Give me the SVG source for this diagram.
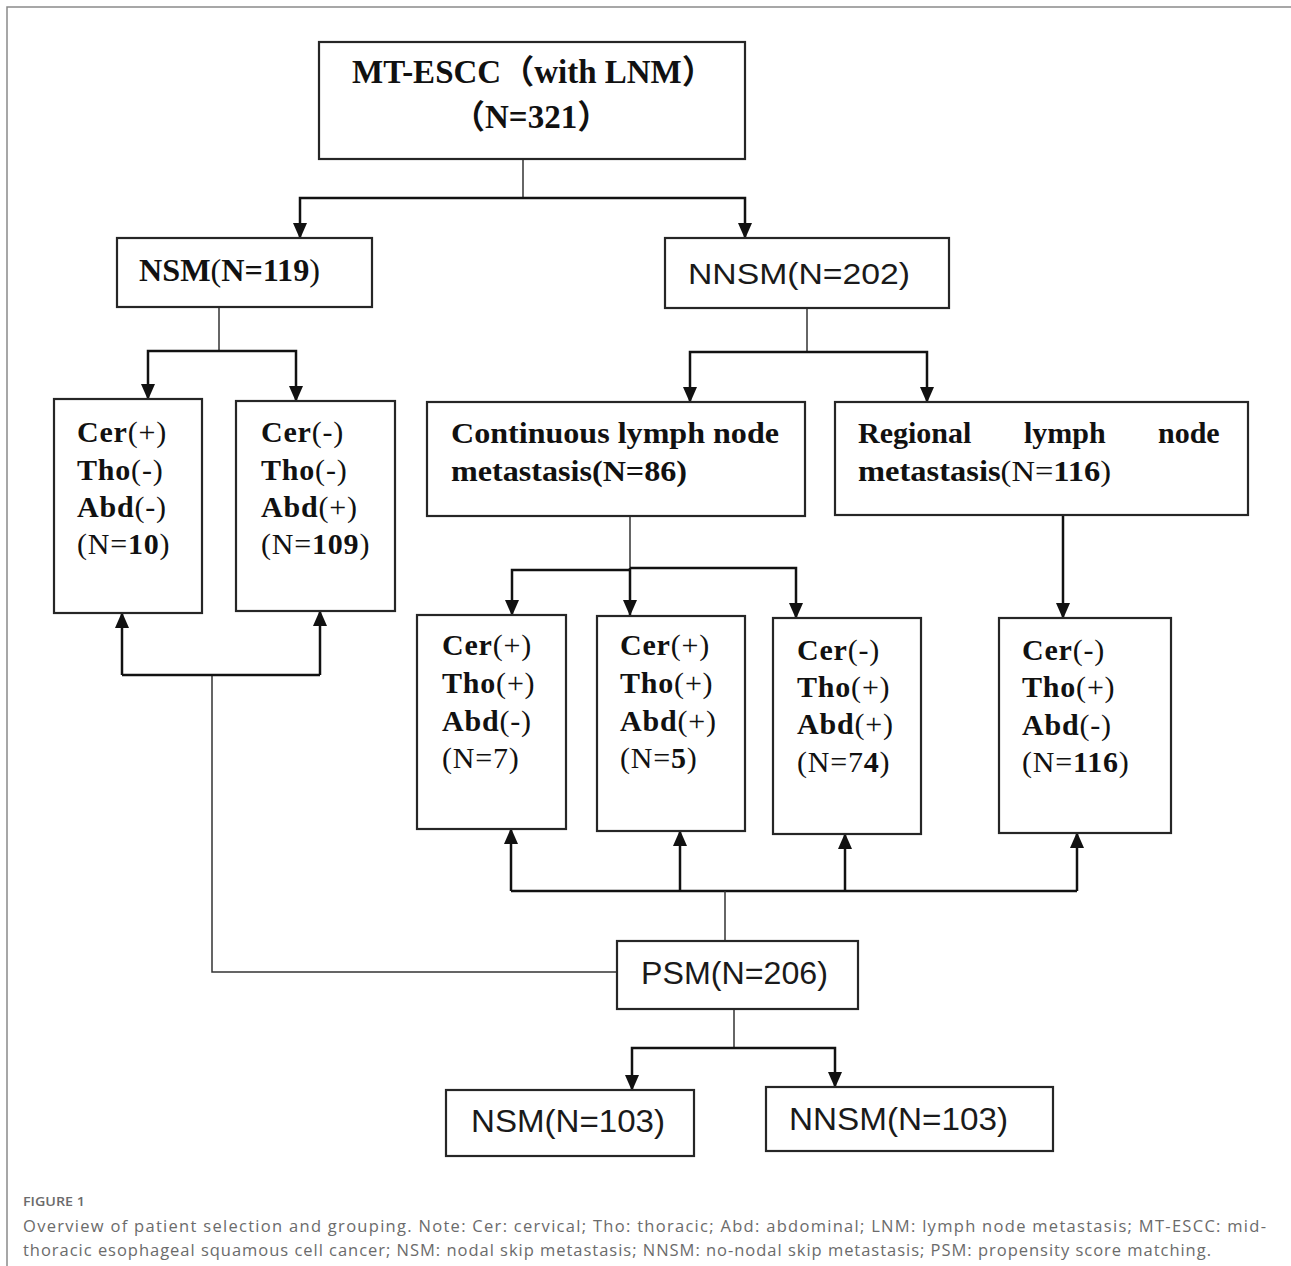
<svg xmlns="http://www.w3.org/2000/svg" width="1291" height="1266" viewBox="0 0 1291 1266">
<defs>
<marker id="ah" markerWidth="16" markerHeight="14" refX="15" refY="7" orient="auto" markerUnits="userSpaceOnUse">
<path d="M0,0 L16,7 L0,14 z" fill="#111"/>
</marker>
<style>
.box{fill:#fff;stroke:#262626;stroke-width:2.2}
.bar{fill:none;stroke:#111;stroke-width:2.5}
.stem{fill:none;stroke:#333;stroke-width:1.5}
.arr{fill:none;stroke:#111;stroke-width:2.5;marker-end:url(#ah)}
.ser{font-family:"Liberation Serif","Times New Roman","Noto Sans CJK SC",serif;fill:#111}
.b{font-weight:bold}
.n{font-weight:normal}
.cer{font-size:30px;letter-spacing:0.8px}
.san{font-family:"Liberation Sans",Arial,sans-serif;fill:#1a1a1a}
.cap{font-family:"Open Sans","Noto Sans",sans-serif;fill:#6b6b6b}
</style>
</defs>
<rect width="1291" height="1266" fill="#fff"/>
<g id="frame" fill="none" stroke="#8a8a8a" stroke-width="1.5">
<path d="M7,1266 V7 H1291"/>
</g>

<g id="connectors">
<path class="stem" d="M523,159 V198"/>
<path class="arr" d="M523,198 H300 V238"/>
<path class="arr" d="M523,198 H745 V238"/>
<path class="stem" d="M219,307 V351"/>
<path class="arr" d="M219,351 H148 V399"/>
<path class="arr" d="M219,351 H296 V401"/>
<path class="stem" d="M807,308 V352"/>
<path class="arr" d="M807,352 H690 V402"/>
<path class="arr" d="M807,352 H927 V402"/>
<path class="stem" d="M630,516 V570"/>
<path class="arr" d="M630,568 V615"/>
<path class="arr" d="M630,570 H512 V615"/>
<path class="arr" d="M630,568 H796 V618"/>
<path class="arr" d="M1063,515 V618"/>
<path class="bar" d="M511,891 H1077"/>
<path class="arr" d="M511,891 V829"/>
<path class="arr" d="M680,891 V831"/>
<path class="arr" d="M845,891 V834"/>
<path class="arr" d="M1077,891 V833"/>
<path class="stem" d="M725,891 V941"/>
<path class="stem" d="M617,972 H212 V675"/>
<path class="bar" d="M122,675 H320"/>
<path class="arr" d="M122,675 V613"/>
<path class="arr" d="M320,675 V611"/>
<path class="stem" d="M734,1009 V1048" stroke="#8a8a8a"/>
<path class="arr" d="M734,1048 H632 V1090"/>
<path class="arr" d="M734,1048 H835 V1087"/>
</g>

<g id="mtescc">
<rect class="box" x="319" y="42" width="426" height="117"/>
<text class="ser b" x="352" y="83" font-size="33">MT-ESCC（with LNM）</text>
<text class="ser b" x="452" y="128" font-size="33">（N=321）</text>
</g>

<g id="nsm119">
<rect class="box" x="117" y="238" width="255" height="69"/>
<text class="ser" x="139" y="281" font-size="32" textLength="181" lengthAdjust="spacingAndGlyphs"><tspan class="b">NSM</tspan><tspan class="n">(</tspan><tspan class="b">N=119</tspan><tspan class="n">)</tspan></text>
</g>

<g id="nnsm202">
<rect class="box" x="665" y="238" width="284" height="70"/>
<text class="san" x="688" y="284" font-size="30" textLength="222" lengthAdjust="spacingAndGlyphs">NNSM(N=202)</text>
</g>

<g id="nsmA">
<rect class="box" x="54" y="399" width="148" height="214"/>
<text class="ser cer" x="77"><tspan y="442"><tspan class="b">Cer</tspan><tspan class="n">(+)</tspan></tspan><tspan x="77" y="480"><tspan class="b">Tho</tspan><tspan class="n">(-)</tspan></tspan><tspan x="77" y="517"><tspan class="b">Abd</tspan><tspan class="n">(-)</tspan></tspan><tspan x="77" y="554"><tspan class="n">(N=</tspan><tspan class="b">10</tspan><tspan class="n">)</tspan></tspan></text>
</g>

<g id="nsmB">
<rect class="box" x="236" y="401" width="159" height="210"/>
<text class="ser cer" x="261"><tspan y="442"><tspan class="b">Cer</tspan><tspan class="n">(-)</tspan></tspan><tspan x="261" y="480"><tspan class="b">Tho</tspan><tspan class="n">(-)</tspan></tspan><tspan x="261" y="517"><tspan class="b">Abd</tspan><tspan class="n">(+)</tspan></tspan><tspan x="261" y="554"><tspan class="n">(N=</tspan><tspan class="b">109</tspan><tspan class="n">)</tspan></tspan></text>
</g>

<g id="continuous">
<rect class="box" x="427" y="402" width="378" height="114"/>
<text class="ser b" x="451" y="443" font-size="30" textLength="328" lengthAdjust="spacingAndGlyphs">Continuous lymph node</text>
<text class="ser b" x="451" y="481" font-size="30" textLength="236" lengthAdjust="spacingAndGlyphs">metastasis(N=86)</text>
</g>

<g id="regional">
<rect class="box" x="835" y="402" width="413" height="113"/>
<text class="ser b" y="443" font-size="30"><tspan x="858">Regional</tspan><tspan x="1024">lymph</tspan><tspan x="1158">node</tspan></text>
<text class="ser" x="858" y="481" font-size="30" textLength="253" lengthAdjust="spacingAndGlyphs"><tspan class="b">metastasis</tspan><tspan class="n">(N=</tspan><tspan class="b">116</tspan><tspan class="n">)</tspan></text>
</g>

<g id="cont7">
<rect class="box" x="417" y="615" width="149" height="214"/>
<text class="ser cer" x="442"><tspan y="655"><tspan class="b">Cer</tspan><tspan class="n">(+)</tspan></tspan><tspan x="442" y="693"><tspan class="b">Tho</tspan><tspan class="n">(+)</tspan></tspan><tspan x="442" y="731"><tspan class="b">Abd</tspan><tspan class="n">(-)</tspan></tspan><tspan x="442" y="768"><tspan class="n">(N=7)</tspan></tspan></text>
</g>

<g id="cont5">
<rect class="box" x="597" y="616" width="148" height="215"/>
<text class="ser cer" x="620"><tspan y="655"><tspan class="b">Cer</tspan><tspan class="n">(+)</tspan></tspan><tspan x="620" y="693"><tspan class="b">Tho</tspan><tspan class="n">(+)</tspan></tspan><tspan x="620" y="731"><tspan class="b">Abd</tspan><tspan class="n">(+)</tspan></tspan><tspan x="620" y="768"><tspan class="n">(N=</tspan><tspan class="b">5</tspan><tspan class="n">)</tspan></tspan></text>
</g>

<g id="cont74">
<rect class="box" x="773" y="618" width="148" height="216"/>
<text class="ser cer" x="797"><tspan y="660"><tspan class="b">Cer</tspan><tspan class="n">(-)</tspan></tspan><tspan x="797" y="697"><tspan class="b">Tho</tspan><tspan class="n">(+)</tspan></tspan><tspan x="797" y="734"><tspan class="b">Abd</tspan><tspan class="n">(+)</tspan></tspan><tspan x="797" y="772"><tspan class="n">(N=7</tspan><tspan class="b">4</tspan><tspan class="n">)</tspan></tspan></text>
</g>

<g id="reg116">
<rect class="box" x="999" y="618" width="172" height="215"/>
<text class="ser cer" x="1022"><tspan y="660"><tspan class="b">Cer</tspan><tspan class="n">(-)</tspan></tspan><tspan x="1022" y="697"><tspan class="b">Tho</tspan><tspan class="n">(+)</tspan></tspan><tspan x="1022" y="735"><tspan class="b">Abd</tspan><tspan class="n">(-)</tspan></tspan><tspan x="1022" y="772"><tspan class="n">(N=</tspan><tspan class="b">116</tspan><tspan class="n">)</tspan></tspan></text>
</g>

<g id="psm">
<rect class="box" x="617" y="941" width="241" height="68"/>
<text class="san" x="641" y="984" font-size="32" textLength="187" lengthAdjust="spacingAndGlyphs">PSM(N=206)</text>
</g>

<g id="nsm103">
<rect class="box" x="446" y="1090" width="248" height="66"/>
<text class="san" x="471" y="1132" font-size="31" textLength="194" lengthAdjust="spacingAndGlyphs">NSM(N=103)</text>
</g>

<g id="nnsm103">
<rect class="box" x="766" y="1087" width="287" height="64"/>
<text class="san" x="789" y="1130" font-size="31" textLength="219" lengthAdjust="spacingAndGlyphs">NNSM(N=103)</text>
</g>

<g id="caption">
<text class="cap" x="23" y="1206" font-size="12.5" font-weight="600" fill="#707070" textLength="62" lengthAdjust="spacingAndGlyphs">FIGURE 1</text>
<text class="cap" x="23" y="1232" font-size="16.5" textLength="1243" lengthAdjust="spacing">Overview of patient selection and grouping. Note: Cer: cervical; Tho: thoracic; Abd: abdominal; LNM: lymph node metastasis; MT-ESCC: mid-</text>
<text class="cap" x="23" y="1256" font-size="16.5" textLength="1188" lengthAdjust="spacing">thoracic esophageal squamous cell cancer; NSM: nodal skip metastasis; NNSM: no-nodal skip metastasis; PSM: propensity score matching.</text>
</g>
</svg>
